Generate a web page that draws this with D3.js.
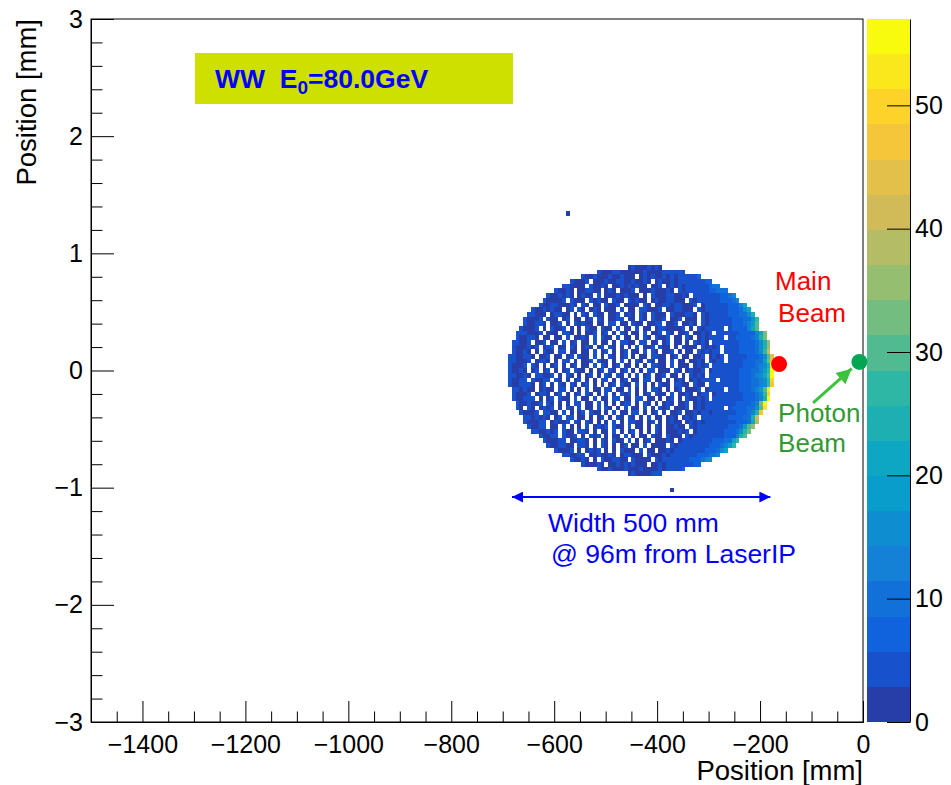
<!DOCTYPE html>
<html>
<head>
<meta charset="utf-8">
<script src="https://cdn.jsdelivr.net/npm/d3@7"></script>
<style>
  body { margin: 0; background: #fff; }
  text { font-family: "Liberation Sans", Arial, Helvetica, sans-serif; }
</style>
</head>
<body>
<svg id="chart" width="951" height="785" xmlns="http://www.w3.org/2000/svg"></svg>
<script>
// ---- data ----
const xMajorTicks = [-1400, -1200, -1000, -800, -600, -400, -200, 0];
const yMajorTicks = [-3, -2, -1, 0, 1, 2, 3];
const zTicks = [0, 10, 20, 30, 40, 50];

// histogram binning (mm): 7.5 mm in x, 0.04 mm in y
const binW = 7.5, binH = 0.04;
const gridLeft = -690, gridTop = 0.9;

// first filled column of every row, top row first
const rowStart = [31, 23, 19, 16, 14, 12, 10, 9, 8, 6, 5, 4, 4, 3, 2, 2, 1, 1, 1, 0, 0, 0, 0,
                  0, 0, 0, 1, 1, 1, 2, 2, 3, 4, 4, 5, 6, 8, 9, 10, 12, 14, 16, 19, 23, 31];

// bin contents read row by row ('.' = empty, 1-9, a=10 ... z=35, A=36 ... V=57)
const rowCells = [
  "231213232",
  "3212331212 2131221343 454",
  "4213121321 3121.23132 1323234345 6",
  "32213.1213 2133124213 2.13213234 3445468",
  "431221.312 31.2132413 21.213.231 3234354569 a",
  "32131.2143 12.231.212 3.12231213 2.32343445 679ab",
  "4213132.13 21.3.12141 3121.2.312 1342132.34 3345567ac",
  "312213.421 2.31321.31 2.31412.13 2143122.32 4345456789e",
  "4213312142 .31.21.421 3.1212.31. 2134133212 3.23434456 78dk",
  "32131421.2 3.42.131.2 12.3.21.43 1213.21432 12.3234345 5678bfm",
  "43212.1431 2.1.32.412 .213.142.3 1.3212.312 1432.32434 4567899gp",
  "32124.312. 13.21.24.3 1.2143.12. 31.4213.12 3.212.3234 34556789bhr",
  "421331.213 .2.41312.2 1.34.21.31 2.1243.213 .1232.3243 34556789cit",
  "32123.1.42 13.2.1.312 .421.3.21. 3.21.2431 2213.2.323 3434.56678 cku",
  "4342113.21 1.432.1.21 3.14.2.31. 21.3.124.3 1.213.2132 3.34354566 78dmw",
  "312432.21. 21.3.1241. 3.421.3.12 .1.32.4213 .12.31.232 3434.45667 89eny",
  "43214.213. 12.3.14.21 .3.21.1.34 21.43.12.1 3.21.2.313 2.33434556 6789fpA",
  "3212314.14 3.21.42.13 1.24.31.2. 1.3.214.31 2.1.3212.3 2324.34556 6789fpA",
  "42132.1.32 1.43.21.21 .3.14.2.13 .21.3.41.2 13.2.21.32 3233.43556 6789gsE",
  "3421342.21 3.21.14.32 1.3.2.41.2 3.1.21.431 2.13.21.21 3.2323.434 456789hvI",
  "432123.134 1.2.43.1.2 13.421.2.3 .1.32.41.2 1.3.21.213 2.3233.454 56789biyM",
  "32214.31.2 .13.2.14.2 1.3.42.13. 21.2.1.432 1.3.212.13 23.3434545 56789cfpQ",
  "42131.24.1 3.2.13.421 .2.14.32.1 3.2.1.34.2 12.31.2312 3.23434545 6789adjsV",
  "331231.342 14.2.31.2. 13.2.41.32 .1.3.24.12 3.21.2.323 2.34434545 6789cfmuT",
  "42133.3214 3.41.2.13. 2.1.34.2.1 3.21.43.12 .2.132.232 3433.43545 6789begrO",
  "3213342.13 .1.32.41.2 3.1.2.13.4 21.3.1.2.3 12.4312.32 2.34343545 6789adhqL",
  "431422.132 1.43.2.1.3 .21.43.12. 3.1.2.431. 2.13.2123. 23434.5456 789ciuR",
  "32123.1342 .13.2.14.3 2.1.3.2.41 3.2.13.421 .3.2132.23 3.23434545 6789fqP",
  "421333.2.1 3.421.3.12 .3.12.43.2 1.43.21.2. 13.2.31232 3.43443545 6789dpT",
  "3213214.32 .1.2.34.21 .3.1.2.134 .2.31.2.13 2.123.2323 3434545667 89ewU",
  "42.31.2413 .2.41.3.21 .3.42.1.3. 21.3.2.413 .2123.2323 4345.56678 9bhtS",
  "32213.3412 .3.1.24.31 2.1.3.21.4 3.2.13.2.1 23.2132332 3434456789 epL",
  "4314232.13 .43.21.1.2 3.1.42.31. 2.3.12.132 .2323.3434 54566789bnG",
  "321233.142 13.42.31.2 .1.3.2.431 2.13.2.132 1.23232343 445456789kC",
  "42134.21.3 .2.1.3.241 3.421.3.12 .2.31.2132 2.32334345 456789ivA",
  "3312314.32 1.432.1.21 .3.2.13.2. 1.31.21232 3.23434545 6789gsx",
  "42143.3213 .2.413.2.1 2.3.1.21.3 21.3122.32 3343454567 8dpu",
  "322133.124 31.2.41.32 1.3.2.13.2 2132.23343 45456789bmr",
  "4213321.43 1.2.31.2.1 3.21.3.212 2.32334345 456789ciq",
  "32123.1.24 13.2.1.312 1.3.21.223 2334345456 78afk",
  "432133.124 2131.24312 2.31223233 4345567899 e",
  "32132.1.31 24312.3212 2.32334345 5678acg",
  "422131.213 2413121.22 3233434556 8",
  "3213121412 1312223234 456",
  "231212333"
];

// isolated bins outside the spot (lower-left corner, mm)
const strayX = [-577.5, -375];
const strayY = [1.32, -1.04];
const strayV = [1, 1];

// ROOT kBird palette
const birdStops = [0, 0.125, 0.25, 0.375, 0.5, 0.625, 0.75, 0.875, 1];
const birdR = [0.2082, 0.0592, 0.0780, 0.0232, 0.1802, 0.5301, 0.8186, 0.9956, 0.9764];
const birdG = [0.1664, 0.3599, 0.5041, 0.6419, 0.7178, 0.7492, 0.7328, 0.7862, 0.9832];
const birdB = [0.5293, 0.8684, 0.8385, 0.7914, 0.6425, 0.4662, 0.3499, 0.1968, 0.0539];

// ---- build bins ----
const codes = "0123456789abcdefghijklmnopqrstuvwxyzABCDEFGHIJKLMNOPQRSTUVWXYZ";
const cells = [];
rowCells.forEach((row, j) => {
  [...row.replace(/ /g, "")].forEach((ch, k) => {
    const v = ch === "." ? 0 : codes.indexOf(ch);
    if (v > 0) cells.push({ x: gridLeft + (rowStart[j] + k) * binW, y: gridTop - (j + 1) * binH, v });
  });
});
strayX.forEach((sx, i) => cells.push({ x: sx, y: strayY[i], v: strayV[i] }));

// ---- scales ----
const frame = { left: 91, right: 863, top: 19, bottom: 722 };
const pal = { left: 867, right: 910 };

const x = d3.scaleLinear().domain([-1500, 0]).range([frame.left, frame.right]);
const y = d3.scaleLinear().domain([-3, 3]).range([frame.bottom, frame.top]);

const zMax = d3.max(cells, d => d.v);
const nBands = 20;
const z = d3.scaleLinear().domain([0, zMax]).range([frame.bottom, frame.top]);

const bird = d3.scaleLinear()
  .domain(birdStops)
  .range(birdStops.map((s, i) => d3.rgb(birdR[i] * 255, birdG[i] * 255, birdB[i] * 255)));
const bandColor = i => bird(Math.floor((i + 0.99) * 255 / nBands) / 254);
const bandOf = v => Math.min(nBands - 1, Math.floor(v / (zMax / nBands)));

const svg = d3.select("#chart");
const font = "'Liberation Sans', Arial, Helvetica, sans-serif";

// ---- histogram cells ----
svg.append("g")
  .attr("shape-rendering", "crispEdges")
  .selectAll("rect")
  .data(cells)
  .join("rect")
  .attr("x", d => x(d.x))
  .attr("y", d => y(d.y + binH))
  .attr("width", d => x(d.x + binW) - x(d.x))
  .attr("height", d => y(d.y) - y(d.y + binH))
  .attr("fill", d => bandColor(bandOf(d.v)));

// ---- axes ----
function styleAxis(g) {
  g.attr("font-size", 25).attr("font-family", font);
  g.selectAll("line, path").attr("stroke", "#000");
}

const xMinor = d3.range(-1500, 1, 50).filter(v => v % 200 !== 0);
const yMinor = d3.range(-3, 3.001, 0.2).map(v => +v.toFixed(1)).filter(v => Math.abs(v - Math.round(v)) > 1e-6);

svg.append("g")
  .attr("transform", `translate(0,${frame.bottom})`)
  .call(d3.axisBottom(x).tickValues(xMinor).tickSizeInner(-10.5).tickSizeOuter(0).tickFormat(""))
  .call(styleAxis);
svg.append("g")
  .attr("transform", `translate(0,${frame.bottom})`)
  .call(d3.axisBottom(x).tickValues(xMajorTicks).tickSizeInner(-21).tickSizeOuter(0)
    .tickPadding(13).tickFormat(d3.format("d")))
  .call(styleAxis);

svg.append("g")
  .attr("transform", `translate(${frame.left},0)`)
  .call(d3.axisLeft(y).tickValues(yMinor).tickSizeInner(-11.5).tickSizeOuter(0).tickFormat(""))
  .call(styleAxis);
svg.append("g")
  .attr("transform", `translate(${frame.left},0)`)
  .call(d3.axisLeft(y).tickValues(yMajorTicks).tickSizeInner(-23).tickSizeOuter(0)
    .tickPadding(8).tickFormat(d3.format("d")))
  .call(styleAxis);

// frame border
svg.append("rect")
  .attr("x", frame.left).attr("y", frame.top)
  .attr("width", frame.right - frame.left).attr("height", frame.bottom - frame.top)
  .attr("fill", "none").attr("stroke", "#000").attr("stroke-width", 1);

// axis titles
svg.append("text")
  .attr("x", frame.right).attr("y", 780)
  .attr("text-anchor", "end").attr("font-size", 27.5)
  .text("Position [mm]");
svg.append("text")
  .attr("transform", `translate(36,${frame.top}) rotate(-90)`)
  .attr("text-anchor", "end").attr("font-size", 27.5)
  .text("Position [mm]");

// ---- palette ----
svg.append("g")
  .attr("shape-rendering", "crispEdges")
  .selectAll("rect")
  .data(d3.range(nBands))
  .join("rect")
  .attr("x", pal.left)
  .attr("width", pal.right - pal.left)
  .attr("y", i => z((i + 1) * zMax / nBands))
  .attr("height", i => z(i * zMax / nBands) - z((i + 1) * zMax / nBands))
  .attr("fill", i => bandColor(i));

svg.append("g")
  .attr("transform", `translate(${pal.right},0)`)
  .call(d3.axisRight(z).tickValues(zTicks).tickSizeInner(-23).tickSizeOuter(0).tickPadding(5))
  .call(styleAxis);

// ---- annotations ----
const defs = svg.append("defs");
defs.append("marker")
  .attr("id", "headBlue").attr("viewBox", "0 0 10 10")
  .attr("refX", 10).attr("refY", 5)
  .attr("markerUnits", "userSpaceOnUse")
  .attr("markerWidth", 13).attr("markerHeight", 11)
  .attr("orient", "auto-start-reverse")
  .append("path").attr("d", "M0,0L10,5L0,10z").attr("fill", "#0000ff");
defs.append("marker")
  .attr("id", "headGreen").attr("viewBox", "0 0 10 10")
  .attr("refX", 10).attr("refY", 5)
  .attr("markerUnits", "userSpaceOnUse")
  .attr("markerWidth", 17).attr("markerHeight", 15)
  .attr("orient", "auto")
  .append("path").attr("d", "M0,0L10,5L0,10z").attr("fill", "#3cc23c");

// label box
svg.append("rect")
  .attr("x", x(-1298)).attr("y", y(2.71))
  .attr("width", x(-680) - x(-1298)).attr("height", y(2.275) - y(2.71))
  .attr("fill", "#cde000");
const boxText = svg.append("text")
  .attr("x", x(-1259)).attr("y", y(2.41))
  .attr("font-size", 26.5).attr("font-weight", "bold").attr("fill", "#0000ff")
  .attr("xml:space", "preserve");
boxText.append("tspan").text("WW  E");
boxText.append("tspan").attr("font-size", 19).attr("dy", 6).text("0");
boxText.append("tspan").attr("dy", -6).text("=80.0GeV");

// beams
svg.append("circle").attr("cx", x(-163)).attr("cy", y(0.055)).attr("r", 8).attr("fill", "#ff0000");
svg.append("circle").attr("cx", x(-7)).attr("cy", y(0.073)).attr("r", 8).attr("fill", "#00a651");

svg.append("line")
  .attr("x1", x(-97)).attr("y1", y(-0.277))
  .attr("x2", x(-22)).attr("y2", y(0.015))
  .attr("stroke", "#3cc23c").attr("stroke-width", 3)
  .attr("marker-end", "url(#headGreen)");

const redText = [["Main", -171, 0.687], ["Beam", -165, 0.415]];
redText.forEach(([t, tx, ty]) => svg.append("text")
  .attr("x", x(tx)).attr("y", y(ty)).attr("font-size", 26).attr("fill", "#ff0000").text(t));

const greenText = [["Photon", -165, -0.44], ["Beam", -165, -0.696]];
greenText.forEach(([t, tx, ty]) => svg.append("text")
  .attr("x", x(tx)).attr("y", y(ty)).attr("font-size", 26).attr("fill", "#339933").text(t));

// width arrow
svg.append("line")
  .attr("x1", x(-682)).attr("y1", y(-1.08))
  .attr("x2", x(-180)).attr("y2", y(-1.08))
  .attr("stroke", "#0000ff").attr("stroke-width", 2)
  .attr("marker-start", "url(#headBlue)")
  .attr("marker-end", "url(#headBlue)");

const blueText = [["Width 500 mm", -612, -1.378], ["@ 96m from LaserIP", -606, -1.643]];
blueText.forEach(([t, tx, ty]) => svg.append("text")
  .attr("x", x(tx)).attr("y", y(ty)).attr("font-size", 26.5).attr("fill", "#0000ff").text(t));
</script>
</body>
</html>
